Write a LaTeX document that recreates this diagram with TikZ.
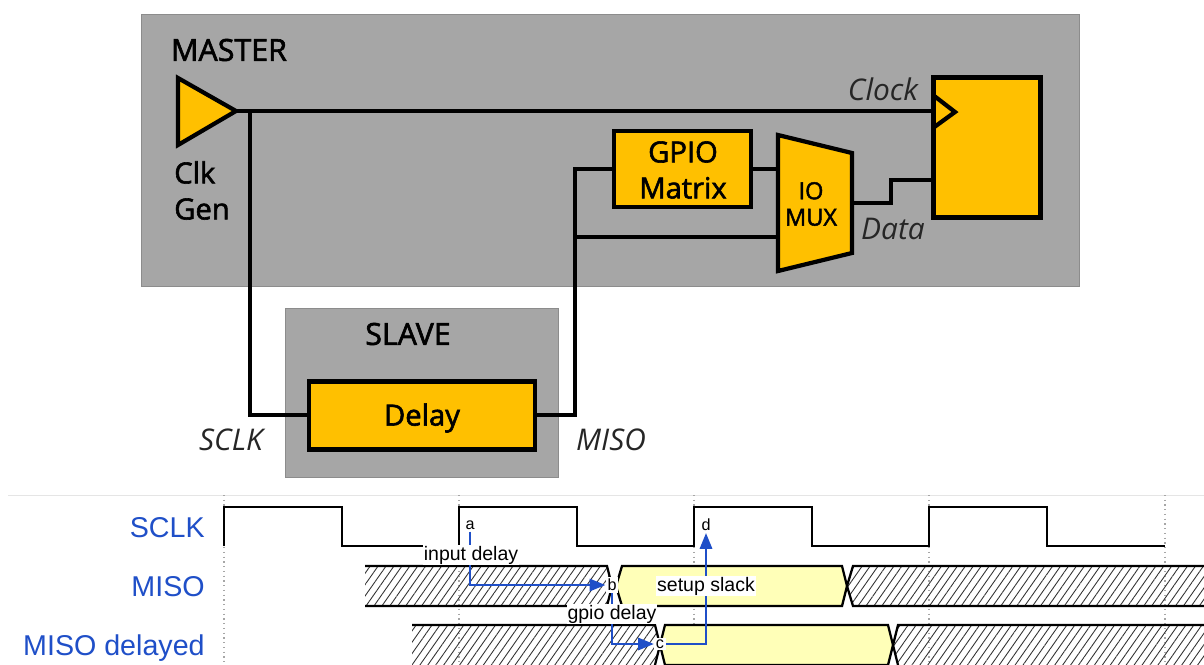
\documentclass[tikz,border=0pt]{standalone}
\usepackage{fontspec}
\setmainfont{Open Sans}
\newfontfamily\blockfont[FakeBold=2]{Open Sans}
\newfontfamily\arialfont{Liberation Sans}
\usetikzlibrary{arrows.meta,patterns.meta}
\definecolor{panelgray}{HTML}{A6A6A6}
\definecolor{blockgold}{HTML}{FFC000}
\definecolor{wavepale}{HTML}{FFFFB8}
\definecolor{waveblue}{HTML}{1F4FC8}

\begin{document}
\begin{tikzpicture}[x=0.02cm, y=-0.02cm,
	every node/.style={inner sep=0pt},
	panel/.style={draw=black!45, line width=0.5pt, fill=panelgray},
	block/.style={draw=black, line width=2.4pt, fill=blockgold},
	wire/.style={draw=black, line width=2.4pt},
	head/.style={font=\blockfont\fontsize{17.3}{20}\selectfont},
	tag/.style={font=\blockfont\fontsize{16.6}{20.5}\selectfont},
	sig/.style={font=\fontsize{17}{20}\selectfont\itshape, text=black!85},
	rowname/.style={font=\arialfont\fontsize{16.3}{19}\selectfont, text=waveblue, anchor=base east},
	note/.style={font=\arialfont\fontsize{11.1}{13}\selectfont, fill=white, inner xsep=0.5pt, inner ysep=0.5pt},
	pointtag/.style={font=\arialfont\fontsize{9.2}{10}\selectfont, fill=white, inner sep=1pt},
	wave/.style={draw=black, line width=1.3pt},
	hatch/.style={pattern={Lines[angle=55, distance=3.7pt, line width=0.5pt]}, pattern color=black!80},
	link/.style={draw=waveblue, line width=1.3pt, -{Triangle[length=9pt, width=7pt]}}]
	\useasboundingbox (0,0) rectangle (1204,664);
	\fill[white] (0,0) rectangle (1204,664);

	\draw[panel] (141,14) rectangle (1079,286);
	\draw[panel] (285,308) rectangle (558,477);

	\node[block, minimum width=2.14cm, minimum height=2.8cm] (ff) at (987,147.5) {};
	\node[block, minimum width=2.74cm, minimum height=1.52cm] (gpio) at (682.5,169) {};
	\node[block, minimum width=4.52cm, minimum height=1.36cm] (delay) at (422,415.5) {};
	\coordinate (gentip) at (236,111);
	\coordinate (sclktap) at (250,111);
	\coordinate (sclkbend) at (250,415);
	\coordinate (misobend) at (575,415);
	\coordinate (misotap) at (575,237);
	\coordinate (gpiobend) at (575,169);
	\coordinate (muxtop) at (778,169);
	\coordinate (muxlow) at (778,237);
	\coordinate (muxout) at (852,203);
	\coordinate (ffclk) at (933,111);
	\coordinate (ffdata) at (933,180);

	\draw[wire] (gentip) -- (ffclk);
	\draw[wire] (sclktap) -- (sclkbend) -- (delay.west |- sclkbend);
	\draw[wire] (delay.east |- misobend) -- (misobend) -- (gpiobend) -- (gpio.west |- gpiobend);
	\draw[wire] (misotap) -- (muxlow);
	\draw[wire] (gpio.east |- muxtop) -- (muxtop);
	\draw[wire] (muxout) -- (891,203) -- (891,180) -- (ffdata);
	\draw[block, miter limit=20] (178,78) -- (236,111) -- (178,145) -- cycle;
	\draw[block] (778,135) -- (852,153) -- (852,253) -- (778,271) -- cycle;
	\draw[wire, fill=none, miter limit=20] (933,95) -- (955,112) -- (933,128);

	\node[head] (mastertxt) at (229,50) {MASTER};
	\node[head] (slavetxt) at (408,334) {SLAVE};
	\node[tag] (delaytxt) at (422,418) {Delay};
	\node[tag, align=center] (gpiotxt) at (683,170) {GPIO\\Matrix};
	\node[tag, font=\blockfont\fontsize{13.4}{15}\selectfont, align=center] (muxtxt) at (811,204) {IO\\MUX};
	\node[tag, align=left] (gentxt) at (202,190.5) {Clk\\Gen};
	\node[sig] (clocktxt) at (883,89) {Clock};
	\node[sig] (datatxt) at (893,229) {Data};
	\node[sig] (sclktxt) at (231,440) {SCLK};
	\node[sig] (misotxt) at (611,440) {MISO};

	\draw[black!10, line width=0.5pt] (8,495) -- (1204,495);
	\foreach \gridx in {224,459,694,929,1165}
		\draw[black!35, line width=0.7pt, dotted] (\gridx,495) -- (\gridx,664);

	\node[rowname] (rowsclk) at (205,537) {SCLK};
	\node[rowname] (rowmiso) at (205,596) {MISO};
	\node[rowname] (rowdelayed) at (205,655) {MISO delayed};

	\draw[wave] (224,546) -- (224,507) -- (342,507) -- (342,546) -- (459,546) -- (459,507) -- (577,507) -- (577,546) -- (694,546) -- (694,507) -- (812,507) -- (812,546) -- (929,546) -- (929,507) -- (1047,507) -- (1047,546) -- (1165,546);

	\fill[hatch] (365,566) -- (607,566) -- (612,586) -- (607,606) -- (365,606) -- cycle;
	\draw[wave] (365,566) -- (607,566) -- (612,586) -- (607,606) -- (365,606);
	\draw[wave, fill=wavepale] (622,566) -- (842,566) -- (847,586) -- (842,606) -- (622,606) -- (616,586) -- cycle;
	\fill[hatch] (1204,566) -- (853,566) -- (847,586) -- (853,606) -- (1204,606) -- cycle;
	\draw[wave] (1204,566) -- (853,566) -- (847,586) -- (853,606) -- (1204,606);

	\fill[hatch] (412,625) -- (655,625) -- (660,645) -- (655,665) -- (412,665) -- cycle;
	\draw[wave] (412,625) -- (655,625) -- (660,645) -- (655,665);
	\draw[wave, fill=wavepale] (665,625) -- (888,625) -- (893,645) -- (888,665) -- (665,665) -- (660,645) -- cycle;
	\fill[hatch] (1204,625) -- (898,625) -- (893,645) -- (898,665) -- (1204,665) -- cycle;
	\draw[wave] (1204,625) -- (898,625) -- (893,645) -- (898,665);

	\node[pointtag] (a) at (470,525) {a};
	\node[pointtag] (b) at (612,585) {b};
	\node[pointtag] (c) at (660,644) {c};
	\node[pointtag] (d) at (706,525) {d};
	\draw[link] (a) |- (b);
	\draw[link] (b) |- (c);
	\draw[link] (c) -| (d);
	\node[note] (inputtxt) at (471,555) {input delay};
	\node[note] (gpiodelaytxt) at (612,614) {gpio delay};
	\node[note] (slacktxt) at (706,586) {setup slack};
\end{tikzpicture}
\end{document}
